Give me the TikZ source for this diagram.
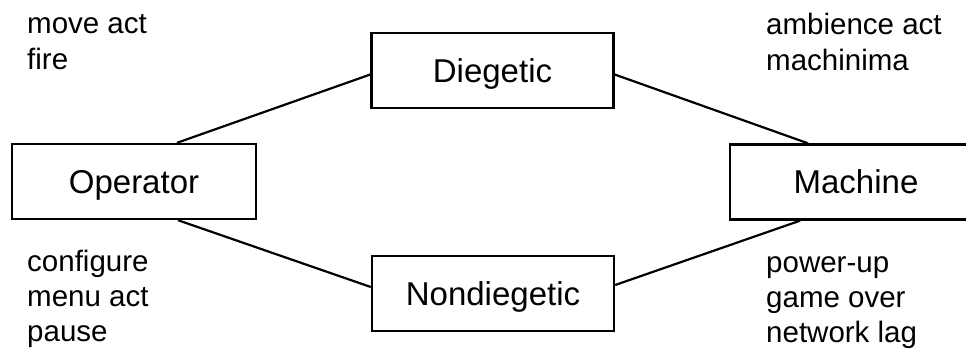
\documentclass[tikz,border=0pt]{standalone}
\usepackage{fontspec}
\setmainfont{Liberation Sans}
\begin{document}
\begin{tikzpicture}[x=1pt,y=-1pt,
  box/.style={draw,line width=2.4pt,minimum height=75pt,inner sep=0pt,
    font=\fontsize{33}{40}\selectfont,text height=23.6pt,text depth=0pt},
  lbl/.style={anchor=base west,inner sep=0pt,font=\fontsize{29.5}{35}\selectfont},
  link/.style={line width=2.2pt}]
\useasboundingbox (0,0) rectangle (966,351);
\node[box,minimum width=244pt] (op) at (134,181.5) {Operator};
\node[box,minimum width=242pt] (dg) at (492.5,70.5) {Diegetic};
\node[box,minimum width=242pt] (nd) at (493,293.5) {Nondiegetic};
\node[box,minimum width=252pt] (mc) at (856,182) {Machine};
\draw[link] ([xshift=43pt]op.north) -- ([yshift=-4pt]dg.west);
\draw[link] ([yshift=-4pt]dg.east) -- ([xshift=-48pt]mc.north);
\draw[link] ([xshift=44pt]op.south) -- ([yshift=6.5pt]nd.west);
\draw[link] ([yshift=8.5pt]nd.east) -- ([xshift=-56pt]mc.south);
\node[lbl] (l1) at (27,33) {move act};
\node[lbl] (l2) at (27,69) {fire};
\node[lbl] (l3) at (27,271) {configure};
\node[lbl] (l4) at (27,306) {menu act};
\node[lbl] (l5) at (27,341) {pause};
\node[lbl] (r1) at (766,34) {ambience act};
\node[lbl] (r2) at (766,70) {machinima};
\node[lbl] (r3) at (766,272) {power-up};
\node[lbl] (r4) at (766,307) {game over};
\node[lbl] (r5) at (766,342) {network lag};
\end{tikzpicture}
\end{document}
